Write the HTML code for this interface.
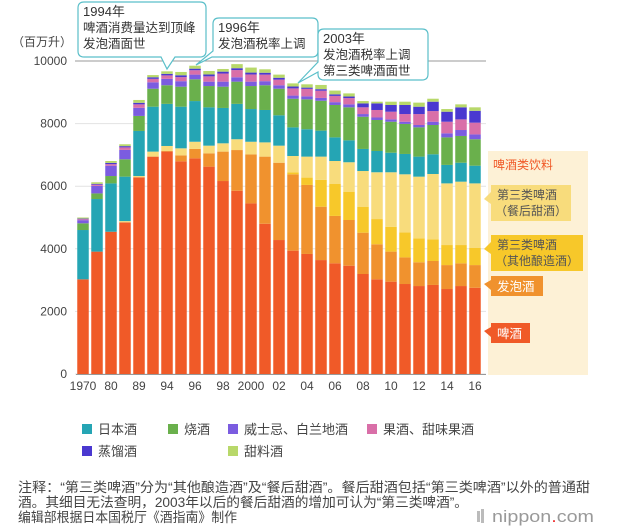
<!DOCTYPE html>
<html><head><meta charset="utf-8">
<style>
body{margin:0;width:617px;height:528px;background:#fff;overflow:hidden;font-family:"Liberation Sans","Noto Sans CJK SC",sans-serif;color:#333}
svg{position:absolute;left:0;top:0}
text{font-family:"Liberation Sans","Noto Sans CJK SC",sans-serif}
</style></head><body>
<svg id="chart" width="617" height="528">
<rect x="488" y="151" width="100" height="224" fill="#fdf1d6"/>
<g id="grid"></g>
<g id="bars"></g>
<g id="axis"></g>
<text x="12" y="46" font-size="12" fill="#444">（百万升）</text>
<g>
<path d="M84,2 H200 Q206,2 206,8 V51 Q206,57 200,57 H175 L167,69 L161,57 H84 Q78,57 78,51 V8 Q78,2 84,2 Z" fill="#fff" stroke="#5bbfc9" stroke-width="1.2"/>
<text x="83" y="16" font-size="13" fill="#333">1994年</text>
<text x="83" y="32" font-size="12.5" fill="#333">啤酒消费量达到顶峰</text>
<text x="83" y="48" font-size="12.5" fill="#333">发泡酒面世</text>
</g>
<g>
<path d="M219,18 H312 Q318,18 318,24 V51 Q318,57 312,57 H212 L196,65 L213,51 V24 Q213,18 219,18 Z" fill="#fff" stroke="#5bbfc9" stroke-width="1.2"/>
<text x="218" y="32" font-size="13" fill="#333">1996年</text>
<text x="218" y="48" font-size="12.5" fill="#333">发泡酒税率上调</text>
</g>
<g>
<path d="M324,29 H422 Q428,29 428,35 V74 Q428,80 422,80 H324 Q318,80 318,74 V72 L298,83 L318,62 V35 Q318,29 324,29 Z" fill="#fff" stroke="#5bbfc9" stroke-width="1.2"/>
<text x="323" y="43" font-size="13" fill="#333">2003年</text>
<text x="323" y="59" font-size="12.5" fill="#333">发泡酒税率上调</text>
<text x="323" y="75" font-size="12.5" fill="#333">第三类啤酒面世</text>
</g>
<text x="493" y="169" font-size="12" fill="#f05a28">啤酒类饮料</text>
<g>
<polygon points="491,192 484,199 491,204" fill="#f8dc7c"/>
<rect x="491" y="185" width="80" height="36" fill="#f8dc7c"/>
<text x="497" y="199" font-size="12" fill="#555">第三类啤酒</text>
<text x="495" y="215" font-size="12" fill="#555">（餐后甜酒）</text>
</g>
<g>
<polygon points="491,242 484,249 491,254" fill="#f7c82a"/>
<rect x="491" y="235" width="92" height="36" fill="#f7c82a"/>
<text x="497" y="249" font-size="12" fill="#555">第三类啤酒</text>
<text x="495" y="265" font-size="12" fill="#555">（其他酿造酒）</text>
</g>
<g>
<polygon points="491,280 484,284 491,290" fill="#f0922e"/>
<rect x="491" y="276" width="52" height="20" fill="#f0922e"/>
<text x="497" y="291" font-size="12.5" fill="#fff">发泡酒</text>
</g>
<g>
<polygon points="491,327 484,331 491,337" fill="#f05a28"/>
<rect x="491" y="323" width="39" height="20" fill="#f05a28"/>
<text x="497" y="338" font-size="12.5" fill="#fff">啤酒</text>
</g>
<g id="legend"></g>
<text x="18" y="492" font-size="13.5" textLength="572" lengthAdjust="spacingAndGlyphs" fill="#444">注释：“第三类啤酒”分为“其他酿造酒”及“餐后甜酒”。餐后甜酒包括“第三类啤酒”以外的普通甜</text>
<text x="18" y="507" font-size="13.5" textLength="450" lengthAdjust="spacingAndGlyphs" fill="#444">酒。其细目无法查明，2003年以后的餐后甜酒的增加可认为“第三类啤酒”。</text>
<text x="18" y="522" font-size="13.5" textLength="219" lengthAdjust="spacingAndGlyphs" fill="#444">编辑部根据日本国税厅《酒指南》制作</text>
<g>
<rect x="477" y="511" width="3" height="11" fill="#bbb"/><rect x="481" y="509" width="3" height="14" fill="#bbb"/>
<text x="492" y="522" font-size="17" textLength="102" lengthAdjust="spacingAndGlyphs" fill="#999">nippon<tspan fill="#e33">.</tspan>com</text>
</g>
</svg>
<script>
const years=['1970','1975','1980','1985','1989','1993','1994','1995','1996','1997','1998','1999','2000','2001','2002','2003','2004','2005','2006','2007','2008','2009','2010','2011','2012','2013','2014','2015','2016'];
const tickLabels=['1970','','80','','89','','94','','96','','98','','2000','','02','','04','','06','','08','','10','','12','','14','','16'];
const beer=[3025,3910,4545,4845,6285,6945,7105,6795,6890,6625,6165,5855,5450,4800,4280,3940,3835,3640,3535,3460,3195,3025,2950,2875,2810,2845,2715,2810,2755];
const happoshu=[0,0,0,0,0,0,20,190,300,425,940,1300,1565,2145,2470,2440,2205,1705,1515,1460,1320,1120,960,850,760,765,765,725,725];
const thirdOther=[0,0,0,0,0,0,0,0,0,0,0,0,0,0,0,60,235,855,1020,905,830,805,795,800,765,695,640,585,555];
const thirdLiqueur=[0,0,0,40,40,160,160,225,230,245,265,345,405,455,545,525,670,745,735,940,1140,1495,1740,1855,1970,2085,1970,2025,2055];
const sake=[1575,1680,1545,1420,1440,1435,1345,1330,1300,1225,1130,1130,1045,1035,970,915,875,830,755,700,705,680,625,650,640,630,590,605,565];
const shochu=[215,180,235,555,480,575,595,640,695,680,680,710,735,790,850,915,955,955,1035,1055,1030,990,990,960,935,935,880,855,845];
const whisky=[100,240,330,300,260,205,205,175,150,140,160,140,140,130,110,100,95,90,90,95,85,80,75,70,75,105,130,190,155];
const fruitWine=[30,40,50,80,110,110,110,130,140,170,260,230,230,210,180,230,240,230,200,200,215,240,245,245,350,340,370,340,375];
const spirits=[20,25,40,40,50,50,50,60,50,60,60,60,60,60,60,60,40,50,50,50,125,210,215,290,235,300,320,385,380];
const liqueur=[35,50,60,60,90,70,80,105,95,110,85,130,160,110,100,100,105,135,120,100,75,55,105,105,130,95,85,95,110];
const yTicks=[0,2000,4000,6000,8000,10000];
const series=[
 {name:'beer',vals:beer,color:'#f05a28'},
 {name:'happoshu',vals:happoshu,color:'#f0922e'},
 {name:'third-beer-other',vals:thirdOther,color:'#f7c82a'},
 {name:'third-beer-liqueur',vals:thirdLiqueur,color:'#f8dc7c'},
 {name:'sake',vals:sake,color:'#25a5b4'},
 {name:'shochu',vals:shochu,color:'#6ab04c'},
 {name:'whisky-brandy',vals:whisky,color:'#7b5ce0'},
 {name:'fruit-wine',vals:fruitWine,color:'#d96fa8'},
 {name:'spirits',vals:spirits,color:'#4a38d0'},
 {name:'liqueur',vals:liqueur,color:'#b8d86a'}];
const NS='http://www.w3.org/2000/svg';
const y0=374,yTop=61,vMax=10000;
function yScale(v){return y0-(v/vMax)*(y0-yTop);}
function xScale(i){return 83+i*14;}
const bw=11.5;
function mk(tag,attrs,parent){const e=document.createElementNS(NS,tag);for(const k in attrs)e.setAttribute(k,attrs[k]);parent.appendChild(e);return e;}
const grid=document.getElementById('grid'),axis=document.getElementById('axis'),bars=document.getElementById('bars');
yTicks.forEach(t=>{
 const l=mk('line',{x1:75,x2:486,y1:yScale(t),y2:yScale(t),stroke:t===10000?'#999':'#e2e2e2','stroke-width':1},grid);
 
 
 const tx=mk('text',{x:67,y:yScale(t)+4,'text-anchor':'end','font-size':12,fill:'#444'},axis);
 tx.textContent=t;
 
 
});
years.forEach((yr,i)=>{
 let cum=0;
 series.forEach(s=>{
  const v=s.vals[i];if(v<=0){return;}
  const r=mk('rect',{x:xScale(i)-bw/2,y:yScale(cum+v),width:bw,height:yScale(cum)-yScale(cum+v),fill:s.color},bars);
  
  
  cum+=v;
 });
 if(tickLabels[i]){
  const tx=mk('text',{x:xScale(i),y:390,'text-anchor':'middle','font-size':12,fill:'#444'},axis);
  tx.textContent=tickLabels[i];
  
  
 }
});
const bl=mk('line',{x1:76,x2:486,y1:y0+0.5,y2:y0+0.5,stroke:'#999','stroke-width':1},axis);


const legendItems=[['日本酒','#25a5b4',82,429],['烧酒','#6ab04c',168,429],['威士忌、白兰地酒','#7b5ce0',228,429],['果酒、甜味果酒','#d96fa8',367,429],['蒸馏酒','#4a38d0',82,451],['甜料酒','#b8d86a',228,451]];
const lg=document.getElementById('legend');
legendItems.forEach(it=>{
 const g=mk('g',{},lg);
 
 
 mk('rect',{x:it[2],y:it[3]-5,width:10,height:10,fill:it[1]},g);
 const t=mk('text',{x:it[2]+16,y:it[3]+5,'font-size':13,fill:'#444'},g);
 t.textContent=it[0];
});
</script>
</body></html>
